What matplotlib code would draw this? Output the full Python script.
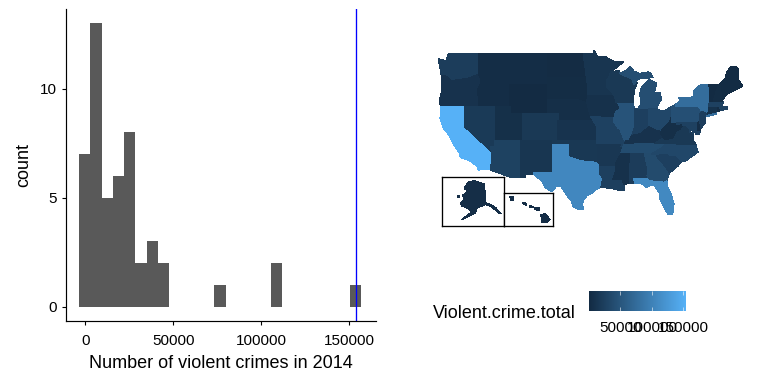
import numpy as np
import matplotlib
matplotlib.use("Agg")
import matplotlib.pyplot as plt
from matplotlib.colors import LinearSegmentedColormap, Normalize
from matplotlib.patches import Polygon

plt.rcParams['font.family'] = ['Liberation Sans', 'DejaVu Sans']

# violent crimes per state, 2014
crimes = dict(
    AL=20700, AK=4700, AZ=26900, AR=14200, CA=153709, CO=16500, CT=8500, DE=4400, FL=107500, GA=37000,
    HI=3500, ID=3300, IL=47000, IN=24000, IA=8200, KS=10500, KY=9000, LA=23500, ME=1700, MD=26000,
    MA=26000, MI=41000, MN=12500, MS=7800, MO=26000, MT=3400, NE=4800, NV=17500, NH=2500, NJ=23000,
    NM=12800, NY=76500, NC=33000, ND=1800, OH=33000, OK=15000, OR=9000, PA=42000, RI=2500, SC=24000,
    SD=2700, TN=38000, TX=106000, UT=6000, VT=600, VA=16500, WA=21000, WV=5000, WI=16500, WY=1100)
bin_width = 6405
bin_shift = -300
n_bins = 25
x_ticks = [0, 50000, 100000, 150000]
y_ticks = [0, 5, 10]
legend_ticks = [50000, 100000, 150000]

# state outlines, lon/lat
states = dict(
 WA=[(-124.7,48.4),(-123.2,48.15),(-122.8,49),(-117,49),(-117,46.4),(-119,45.9),(-121.2,45.65),(-122.3,45.55),(-123.2,46.15),(-124.1,46.25)],
 OR=[(-124.1,46.25),(-123.2,46.15),(-122.3,45.55),(-121.2,45.65),(-119,45.9),(-117,46.4),(-116.5,45.5),(-117.2,44.4),(-117,42),(-124.2,42),(-124.5,42.8),(-124.1,44),(-123.95,45.5)],
 ID=[(-117,49),(-116,49),(-116,48),(-114.5,46.6),(-114.4,45.6),(-113.5,45.1),(-113,44.5),(-111.05,44.5),(-111.05,42),(-117,42),(-117.2,44.4),(-116.5,45.5),(-117,46.4)],
 MT=[(-116,49),(-104.05,49),(-104.05,45),(-111.05,45),(-111.05,44.5),(-113,44.5),(-113.5,45.1),(-114.4,45.6),(-114.5,46.6),(-116,48)],
 WY=[(-111.05,45),(-104.05,45),(-104.05,41),(-111.05,41)],
 ND=[(-104.05,49),(-97.2,49),(-96.6,46),(-104.05,46)],
 SD=[(-104.05,46),(-96.6,46),(-96.45,45.3),(-96.45,43.5),(-96.5,42.5),(-98.5,43),(-104.05,43)],
 NE=[(-104.05,43),(-98.5,43),(-96.5,42.5),(-96,41),(-95.75,40.6),(-95.3,40),(-102.05,40),(-102.05,41),(-104.05,41)],
 CO=[(-109.05,41),(-102.05,41),(-102.05,37),(-109.05,37)],
 UT=[(-114.05,42),(-111.05,42),(-111.05,41),(-109.05,41),(-109.05,37),(-114.05,37)],
 NV=[(-120,42),(-114.05,42),(-114.05,36.2),(-114.7,36.1),(-114.6,35),(-120,39)],
 CA=[(-124.2,42),(-120,42),(-120,39),(-114.6,35),(-114.7,32.7),(-117.1,32.5),(-117.3,33),(-118.4,33.8),(-119.2,34.1),(-120.5,34.5),(-120.7,35.2),(-121.9,36.6),(-122.5,37.7),(-123.7,38.9),(-124.35,40.4)],
 AZ=[(-114.05,37),(-109.05,37),(-109.05,31.33),(-111.07,31.33),(-114.8,32.5),(-114.7,32.7),(-114.6,35),(-114.7,36.1),(-114.05,36.2)],
 NM=[(-109.05,37),(-103,37),(-103.05,32),(-106.6,32),(-106.5,31.8),(-108.2,31.8),(-108.2,31.33),(-109.05,31.33)],
 KS=[(-102.05,40),(-95.3,40),(-94.6,39.1),(-94.6,37),(-102.05,37)],
 OK=[(-103,37),(-94.6,37),(-94.6,36.5),(-94.45,35.4),(-94.48,33.65),(-96,33.8),(-97.5,33.9),(-99.5,34.4),(-100,34.55),(-100,36.5),(-103,36.5)],
 TX=[(-103,36.5),(-100,36.5),(-100,34.55),(-99.5,34.4),(-97.5,33.9),(-96,33.8),(-94.48,33.65),(-94.05,33.55),(-94.05,33),(-94.05,31.9),(-93.55,31.2),(-93.7,30.1),(-93.85,29.7),(-94.7,29.4),(-95.3,28.9),(-96.5,28.3),(-97.2,27.6),(-97.4,26.8),(-97.15,25.95),(-98.2,26.05),(-99.1,26.4),(-99.5,27.5),(-100.3,28.3),(-101.4,29.77),(-102.3,29.88),(-103.15,28.98),(-104.5,29.65),(-105,30.65),(-106.5,31.75),(-106.6,32),(-103.05,32)],
 MN=[(-97.2,49),(-95.15,49),(-95.15,49.4),(-94.6,48.7),(-92.9,48.6),(-91.4,48.05),(-89.6,48),(-92,46.7),(-92.3,46.1),(-92.8,45.6),(-92.75,44.75),(-91.2,43.5),(-96.45,43.5),(-96.45,45.3),(-96.6,46)],
 IA=[(-96.45,43.5),(-91.2,43.5),(-91.1,42.7),(-90.15,41.8),(-91.1,41.2),(-91.4,40.4),(-95.75,40.6),(-96,41),(-96.5,42.5)],
 MO=[(-95.75,40.6),(-91.4,40.4),(-91.5,40),(-90.7,39),(-90.2,38.7),(-89.5,37.3),(-89.15,37),(-89.4,36.5),(-89.7,36),(-90.4,36),(-90.2,36.5),(-94.6,36.5),(-94.6,39.1),(-95.3,40)],
 AR=[(-94.6,36.5),(-90.2,36.5),(-90.4,36),(-89.7,36),(-90.1,35),(-91.1,33.5),(-91.15,33),(-94.05,33),(-94.05,33.55),(-94.48,33.65),(-94.45,35.4)],
 LA=[(-94.05,33),(-91.15,33),(-91,32.4),(-91.6,31),(-89.75,31),(-89.8,30.6),(-89.5,30.2),(-89.4,29.8),(-89.4,29.2),(-90.2,29.1),(-91.3,29.4),(-92.3,29.55),(-93.85,29.7),(-93.7,30.1),(-93.55,31.2),(-94.05,31.9)],
 WI=[(-92,46.7),(-90.5,46.9),(-90.4,46.55),(-88,45.8),(-87.6,45.1),(-87,45.3),(-87.5,44.4),(-87.8,43),(-87.8,42.5),(-90.65,42.5),(-91.1,42.7),(-91.2,43.5),(-92.75,44.75),(-92.8,45.6),(-92.3,46.1)],
 IL=[(-90.65,42.5),(-87.8,42.5),(-87.5,41.7),(-87.5,39.3),(-87.6,38.7),(-88.05,37.8),(-88.5,37.1),(-89.15,37),(-89.5,37.3),(-90.2,38.7),(-90.7,39),(-91.5,40),(-91.4,40.4),(-91.1,41.2),(-90.15,41.8)],
 IN=[(-87.5,41.7),(-87.2,41.75),(-84.8,41.75),(-84.8,39.1),(-85.4,38.7),(-86.3,38.1),(-87.5,37.9),(-88.05,37.8),(-87.6,38.7),(-87.5,39.3)],
 MI=[(-86.8,41.75),(-84.8,41.75),(-83.45,41.73),(-83.1,42.2),(-82.45,43),(-82.6,43.9),(-83.3,44),(-83.9,43.7),(-83.4,44.9),(-83.3,45.2),(-84.7,45.75),(-85.4,45.2),(-86.2,44.7),(-86.5,43.7),(-86.2,42.5)],
 OH=[(-84.8,41.75),(-83.45,41.73),(-82.7,41.5),(-81.7,41.5),(-80.52,42),(-80.52,40.6),(-80.9,39.7),(-81.7,39.2),(-82.5,38.4),(-83.7,38.65),(-84.8,39.1)],
 KY=[(-89.4,36.5),(-88.05,36.5),(-83.7,36.6),(-82,37.5),(-82.6,38.2),(-82.5,38.4),(-83.7,38.65),(-84.8,39.1),(-85.4,38.7),(-86.3,38.1),(-87.5,37.9),(-88.05,37.8),(-88.5,37.1),(-89.15,37)],
 TN=[(-89.7,36),(-89.4,36.5),(-88.05,36.5),(-83.7,36.6),(-81.7,36.6),(-82,36.1),(-84.3,35),(-90.1,35)],
 MS=[(-90.1,35),(-88.2,35),(-88.45,31.9),(-88.4,30.3),(-89.5,30.2),(-89.8,30.6),(-89.75,31),(-91.6,31),(-91,32.4),(-91.15,33),(-91.1,33.5)],
 AL=[(-88.2,35),(-85.6,35),(-85,32.9),(-85.1,31.55),(-85,31),(-87.6,31),(-87.5,30.3),(-88.4,30.3),(-88.45,31.9)],
 GA=[(-85.6,35),(-83.1,35),(-83.35,34.7),(-81.4,32.8),(-80.9,32),(-81.4,30.7),(-82.05,30.4),(-82.2,30.6),(-84.85,30.7),(-85,31),(-85.1,31.55),(-85,32.9)],
 FL=[(-87.6,31),(-85,31),(-84.85,30.7),(-82.2,30.6),(-82.05,30.4),(-81.4,30.7),(-81.2,29.7),(-80.5,28.4),(-80.05,26.9),(-80.15,25.7),(-80.4,25.2),(-81.1,25.15),(-81.8,26.1),(-82.7,27.7),(-82.8,28.8),(-83.7,29.9),(-84.3,30.05),(-85.3,29.7),(-86.3,30.4),(-87.5,30.3)],
 SC=[(-83.1,35),(-82.3,35.2),(-81,35.1),(-80.8,34.82),(-79.7,34.8),(-78.55,33.85),(-79.2,33.2),(-80.9,32),(-81.4,32.8),(-83.35,34.7)],
 NC=[(-84.3,35),(-82,36.1),(-81.7,36.6),(-75.9,36.55),(-75.5,35.3),(-76.5,34.7),(-77.9,33.9),(-78.55,33.85),(-79.7,34.8),(-80.8,34.82),(-81,35.1),(-82.3,35.2),(-83.1,35)],
 VA=[(-83.7,36.6),(-75.9,36.55),(-76.3,37),(-76.3,37.9),(-77,38.3),(-77.05,38.8),(-77.5,39.1),(-78.35,39.4),(-78.9,38.8),(-79.6,38.5),(-80.3,37.5),(-81.7,37.2),(-82,37.5)],
 WV=[(-82,37.5),(-81.7,37.2),(-80.3,37.5),(-79.6,38.5),(-78.9,38.8),(-78.35,39.4),(-77.75,39.3),(-78.5,39.6),(-79.48,39.5),(-79.48,39.72),(-80.52,39.72),(-80.52,40.6),(-80.9,39.7),(-81.7,39.2),(-82.5,38.4),(-82.6,38.2)],
 PA=[(-80.52,42),(-79.76,42.27),(-79.76,42),(-75.35,42),(-74.7,41.35),(-75.1,40.95),(-75.1,40.2),(-74.75,40.2),(-75.4,39.8),(-75.8,39.72),(-80.52,39.72)],
 NY=[(-79.76,42.27),(-78.9,42.85),(-79.05,43.27),(-76.8,43.3),(-76.2,43.55),(-76.3,44.2),(-75,45),(-73.35,45),(-73.3,43.6),(-73.25,42.75),(-73.5,42.05),(-73.5,41.3),(-73.65,41),(-72,41.1),(-72,40.95),(-74,40.6),(-73.9,41),(-74.7,41.35),(-75.35,42),(-79.76,42)],
 NJ=[(-74.7,41.35),(-73.9,41),(-74.25,40.5),(-74,40.4),(-74.1,39.7),(-74.9,38.95),(-75.5,39.5),(-75.4,39.8),(-74.75,40.2),(-75.1,40.2),(-75.1,40.95)],
 DE=[(-75.8,39.72),(-75.4,39.8),(-75.05,38.45),(-75.7,38.45)],
 MD=[(-79.48,39.72),(-75.8,39.72),(-75.7,38.45),(-75.05,38.45),(-75.25,38),(-75.9,38),(-76.2,39),(-76.4,38.2),(-76.5,39),(-77,38.3),(-77.05,38.8),(-77.5,39.1),(-77.75,39.3),(-78.35,39.4),(-78.5,39.6),(-79.48,39.5)],
 CT=[(-73.5,42.05),(-71.8,42),(-71.8,41.35),(-73.65,41),(-73.5,41.3)],
 RI=[(-71.8,42),(-71.4,42),(-71.15,41.5),(-71.8,41.35)],
 MA=[(-73.25,42.75),(-71.3,42.7),(-70.85,42.85),(-70.6,42.6),(-71,42.3),(-70.6,41.95),(-70,42),(-70,41.65),(-71.15,41.5),(-71.4,42),(-73.5,42.05)],
 VT=[(-73.35,45),(-71.5,45),(-72.05,44),(-72.45,43),(-72.45,42.75),(-73.25,42.75),(-73.3,43.6)],
 NH=[(-71.5,45),(-71.1,45.3),(-70.7,43.1),(-70.85,42.85),(-71.3,42.7),(-72.45,42.75),(-72.45,43),(-72.05,44)],
 ME=[(-71.1,45.3),(-70.3,45.9),(-70,46.7),(-69.2,47.45),(-68.3,47.35),(-67.8,47.05),(-67.8,45.7),(-67,44.85),(-68.5,44.3),(-70,43.75),(-70.7,43.1)],
)
michigan_upper = [(-90.4,46.55),(-89,46.9),(-88.4,47.4),(-87.6,46.8),(-86.5,46.5),(-85,46.7),(-84.4,46.5),(-84,46),(-84.7,45.95),(-86,45.95),(-87,45.7),(-87.6,45.1),(-88,45.8)]
# inset shapes, in inset box units
alaska_shapes = [[(75,35),(85,22),(100,18),(132,28),(135,85),(150,90),(165,100),(182,118),(175,115),(160,103),(150,95),(135,90),(110,100),(105,115),(75,130),(65,135),(95,112),(78,98),(65,95),(62,85),(72,75),(68,62),(78,55),(80,45),(72,42)],
                 [(53,65),(56,65),(56,67),(53,67)],[(44,87),(46,87),(46,89),(44,89)]]
hawaii_shapes = [[(333,134),(345,130),(360,148),(350,157),(335,155)],[(312,112),(328,114),(328,120),(315,118)],[(278,96),(288,100),(288,104),(280,102)],[(240,81),(248,81),(248,88),(241,88)],[(298,107),(308,109),(308,112),(298,110)]]

W, H = 768, 384
fig = plt.figure(figsize=(W/100, H/100), dpi=100)
def px_axes(l, t, r, b, **kw):
    return fig.add_axes([l/W, 1-b/H, (r-l)/W, (b-t)/H], **kw)

# histogram
ax = px_axes(65.5, 9, 375.5, 320.7)
edges = (np.arange(n_bins+1)-0.5)*bin_width + bin_shift
ax.hist(list(crimes.values()), bins=edges, color='#595959')
ax.axvline(crimes['CA'], color='blue', lw=0.95)
ax.set_xlim(-11250, 164900)
ax.set_ylim(-0.64, 13.65)
ax.set_xticks(x_ticks); ax.set_yticks(y_ticks)
ax.tick_params(labelsize=11, length=3, width=0.8, colors='black')
ax.tick_params(axis='x', pad=6.5)
ax.tick_params(axis='y', pad=3.5)
for s in ('top','right'): ax.spines[s].set_visible(False)
for s in ('left','bottom'): ax.spines[s].set_linewidth(0.85)
fig.text(220.5/W, 1-363.5/H, 'Number of violent crimes in 2014', ha='center', va='center', fontsize=13)
fig.text(24/W, 1-165/H, 'count', rotation=90, ha='center', va='center', fontsize=13)

# map (Mercator in latitude, lon/lat outlines above)
cmap = LinearSegmentedColormap.from_list('gg', ['#132B43', '#56B1F7'])
lo, hi = min(crimes.values()), max(crimes.values())
norm = Normalize(lo, hi)
def merc(lat):
    return np.degrees(np.log(np.tan(np.pi/4 + np.radians(lat)/2)))
px_per_deg = 5.275
lon2x = lambda lon: 438.3 + (lon+124.7)*px_per_deg
lat2y = lambda lat: 54 + (merc(49)-merc(lat))*px_per_deg
mp = px_axes(lon2x(-125.5), lat2y(50), lon2x(-66), lat2y(24.5))
mp.set_xlim(-125.5, -66); mp.set_ylim(merc(24.5), merc(50)); mp.axis('off')
def draw_state(pts, st):
    c = cmap(norm(crimes[st]))
    xy = [(lon, merc(lat)) for lon, lat in pts]
    mp.add_patch(Polygon(xy, closed=True, facecolor=c, edgecolor=c, lw=0.3, antialiased=False))
for st, pts in states.items():
    draw_state(pts, st)
draw_state(michigan_upper, 'MI')

# insets
def inset(l, t, r, b, x0, x1, y0, y1, shapes, st):
    a = px_axes(l, t, r, b)
    a.set_xlim(x0, x1); a.set_ylim(y1, y0)
    a.set_xticks([]); a.set_yticks([])
    for s in a.spines.values(): s.set_linewidth(0.95); s.set_color('black')
    c = cmap(norm(crimes[st]))
    for pts in shapes:
        a.add_patch(Polygon(pts, closed=True, facecolor=c, edgecolor=c, lw=0.3, antialiased=False))
inset(442, 177.5, 504, 226, 6, 190, 8, 155, alaska_shapes, 'AK')
inset(504, 193.5, 553, 226, 221, 369, 70, 167, hawaii_shapes, 'HI')

# legend
cb = px_axes(589.3, 291, 685.7, 311)
cb.imshow(np.linspace(0, 1, 256)[None, :], cmap=cmap, aspect='auto', extent=[lo, hi, 0, 1])
cb.set_xlim(lo, hi); cb.set_ylim(0, 1)
for s in cb.spines.values(): s.set_visible(False)
cb.set_yticks([])
cb.set_xticks(legend_ticks)
cb.tick_params(axis='x', length=0, labelsize=11, pad=7.5)
cb.vlines(legend_ticks, 0, 0.2, color='white', lw=0.4)
cb.vlines(legend_ticks, 0.8, 1, color='white', lw=0.4)
fig.text(433/W, 1-313.5/H, 'Violent.crime.total', ha='left', va='center', fontsize=13)

fig.savefig('out.png', dpi=100)
